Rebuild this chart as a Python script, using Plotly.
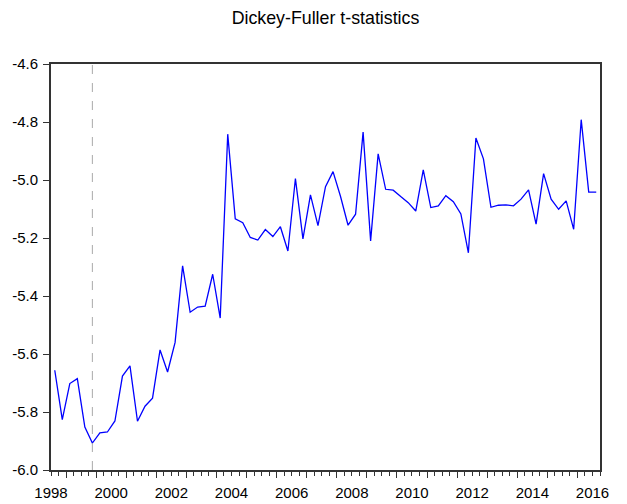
import plotly.graph_objects as go
import pandas as pd

# Quarterly observations 1998Q3 .. 2016Q3
start_period = "1998Q3"
n_obs = 73
df_stat = [
    -5.656, -5.826, -5.702, -5.685, -5.852, -5.907, -5.872, -5.869, -5.831, -5.676,
    -5.641, -5.832, -5.780, -5.752, -5.586, -5.662, -5.560, -5.296, -5.456, -5.438,
    -5.435, -5.325, -5.476, -4.842, -5.134, -5.147, -5.198, -5.207, -5.171, -5.195,
    -5.161, -5.245, -4.995, -5.203, -5.051, -5.157, -5.023, -4.971, -5.057, -5.156,
    -5.118, -4.835, -5.210, -4.910, -5.032, -5.035, -5.057, -5.078, -5.107, -4.965,
    -5.095, -5.089, -5.054, -5.075, -5.117, -5.251, -4.855, -4.927, -5.094, -5.087,
    -5.086, -5.089, -5.066, -5.034, -5.152, -4.978, -5.066, -5.101, -5.072, -5.170,
    -4.792, -5.042, -5.042,
]
marker_period = "1999Q4"
label_years = list(range(1998, 2017, 2))
y_ticks = [-6.0, -5.8, -5.6, -5.4, -5.2, -5.0, -4.8, -4.6]
y_range = [-6.0, -4.6]

periods = pd.period_range(start_period, periods=n_obs, freq="Q")


def qpos(p):
    # centre of the quarter on a continuous year scale
    return p.year + (p.quarter - 1) / 4 + 0.125


x = [qpos(p) for p in periods]
x_lo = x[0] - 0.125
x_hi = x[-1] + 0.125
quarter_bounds = [x_lo + 0.25 * k for k in range(n_obs + 1)]
year_bounds = [y for y in range(1999, 2017)]

FONT = "Liberation Sans, Arial, sans-serif"

fig = go.Figure()
fig.add_trace(go.Scatter(x=x, y=df_stat, mode="lines",
                         line=dict(color="#0000FF", width=1.3),
                         showlegend=False, hoverinfo="skip"))
# invisible trace to carry the year-tick axis
fig.add_trace(go.Scatter(x=[x_lo, x_hi], y=y_range, xaxis="x2", mode="lines",
                         line=dict(width=0), showlegend=False, hoverinfo="skip"))

mp = pd.Period(marker_period, freq="Q")
fig.add_vline(x=qpos(mp), line=dict(color="#AAAAAA", width=1, dash="dash"))

# the page body adds an 8px offset, so the figure is sized 8px smaller
fig.update_layout(
    width=619, height=496,
    margin=dict(l=43, r=27, t=56, b=34, autoexpand=False),
    paper_bgcolor="white", plot_bgcolor="white",
    font=dict(family=FONT, size=15, color="black"),
    title=dict(text="Dickey-Fuller t-statistics", x=0.5, xref="paper", xanchor="center",
               y=0.981, yanchor="middle", yref="container", automargin=False,
               font=dict(family=FONT, size=17.8, color="black")),
    xaxis=dict(range=[x_lo, x_hi], tickmode="array", automargin=False,
               tickvals=[yy + 0.5 for yy in label_years],
               ticktext=[str(yy) for yy in label_years],
               ticks="", showgrid=False, zeroline=False, ticklabelstandoff=8,
               showline=True, linecolor="#333333", linewidth=2, mirror=True,
               minor=dict(tickmode="array", tickvals=quarter_bounds,
                          ticks="outside", ticklen=4, tickwidth=1, tickcolor="#333333")),
    xaxis2=dict(range=[x_lo, x_hi], overlaying="x", anchor="y", side="bottom",
                tickmode="array", tickvals=year_bounds, ticks="outside", automargin=False,
                ticklen=7, tickwidth=1, tickcolor="#333333",
                showticklabels=False, showgrid=False, zeroline=False, showline=False),
    yaxis=dict(range=y_range, tickmode="array", tickvals=y_ticks, automargin=False,
               ticktext=[f"{v:.1f}" for v in y_ticks], ticklabelstandoff=2,
               ticks="outside", ticklen=6, tickwidth=1, tickcolor="#333333",
               showgrid=False, zeroline=False,
               showline=True, linecolor="#333333", linewidth=2, mirror=True),
)

fig.write_html("out.html")
